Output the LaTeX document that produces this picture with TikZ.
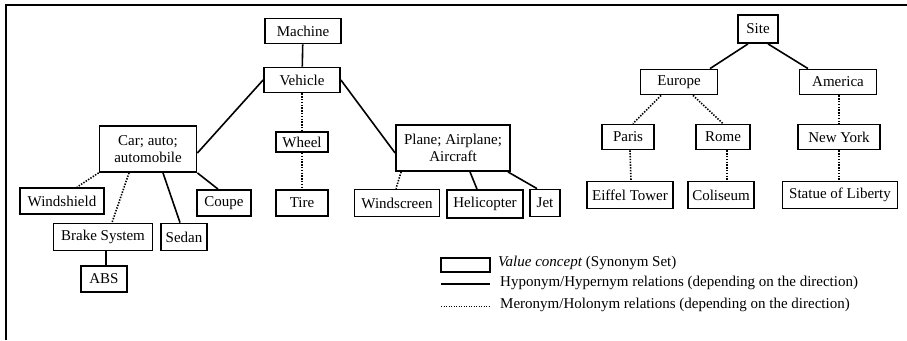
\documentclass[tikz,border=0pt]{standalone}
\usepackage{fontspec}
\setmainfont{Liberation Serif}
\usepackage{tikz}
\usetikzlibrary{positioning}

\begin{document}
\begin{tikzpicture}[
    x=1pt, y=-1pt,
    every node/.style={font=\fontsize{15}{17}\selectfont},
    concept/.style={
        draw,
        line width=1.8pt,
        inner sep=0pt,
        minimum height=26pt,
        align=center
    },
    hyper/.style={line width=1.6pt},
    mero/.style={line width=1.6pt, dash pattern=on 1.4pt off 1.4pt},
    legend text/.style={anchor=west, inner sep=0pt}
]
\useasboundingbox (0,0) rectangle (907,340);

% Frame (top and left edges only)
\draw[line width=1.8pt] (907,5) -- (6,5) -- (6,340);

% Vehicle tree
\node[concept, minimum width=76pt, minimum height=25pt] (machine) at (303,31) {Machine};
\node[concept, minimum width=76pt, minimum height=25pt] (vehicle) at (302,80) {Vehicle};
\node[concept, minimum width=97pt, minimum height=46pt] (car) at (148,149) {Car; auto;\\automobile};
\node[concept, minimum width=52pt, minimum height=20pt] (wheel) at (302,142) {Wheel};
\node[concept, minimum width=114pt, minimum height=46pt] (plane) at (453,148) {Plane; Airplane;\\Aircraft};
\node[concept, minimum width=84pt] (windshield) at (62,201) {Windshield};
\node[concept, minimum width=54pt] (coupe) at (224,203) {Coupe};
\node[concept, minimum width=52pt] (tire) at (302,203) {Tire};
\node[concept, minimum width=85pt, minimum height=27pt] (windscreen) at (397,203) {Windscreen};
\node[concept, minimum width=76pt, minimum height=28pt] (helicopter) at (485,204) {Helicopter};
\node[concept, minimum width=30pt, minimum height=27pt] (jet) at (545,203) {Jet};
\node[concept, minimum width=99pt, minimum height=27pt] (brake) at (103,237) {Brake System};
\node[concept, minimum width=46pt, minimum height=27pt] (sedan) at (184,237) {Sedan};
\node[concept, minimum width=46pt] (abs) at (104,279) {ABS};

% Site tree
\node[concept, minimum width=40pt, minimum height=28pt] (site) at (758,29) {Site};
\node[concept, minimum width=77pt, minimum height=25pt] (europe) at (679,82) {Europe};
\node[concept, minimum width=77pt, minimum height=25pt] (america) at (838,82) {America};
\node[concept, minimum width=52pt, minimum height=25pt] (paris) at (628,137) {Paris};
\node[concept, minimum width=54pt, minimum height=25pt] (rome) at (723,137) {Rome};
\node[concept, minimum width=82pt, minimum height=25pt] (newyork) at (839,137) {New York};
\node[concept, minimum width=86pt, minimum height=27pt] (eiffel) at (630,195) {Eiffel Tower};
\node[concept, minimum width=66pt, minimum height=27pt] (coliseum) at (721,195) {Coliseum};
\node[concept, minimum width=115pt, minimum height=27pt] (statue) at (840,195) {Statue of Liberty};

% Hyponym/Hypernym links
\draw[hyper] (machine) -- (vehicle);
\draw[hyper] (vehicle.west) -- ([yshift=-4pt]car.east);
\draw[hyper] (vehicle.east) -- ([yshift=-5pt]plane.west);
\draw[hyper] ([xshift=15pt]car.south) -- ([xshift=-4pt]sedan.north);
\draw[hyper] (car.south east) -- ([xshift=-6pt]coupe.north);
\draw[hyper] ([xshift=3pt]brake.south) -- ([xshift=2pt]abs.north);
\draw[hyper] ([xshift=17pt]plane.south) -- ([xshift=-8pt]helicopter.north);
\draw[hyper] ([xshift=-3pt]plane.south east) -- ([xshift=-8pt]jet.north);
\draw[hyper] ([xshift=-10pt]site.south) -- ([xshift=31pt]europe.north);
\draw[hyper] ([xshift=10pt]site.south) -- ([xshift=-30pt]america.north);

% Meronym/Holonym links
\draw[mero] (vehicle) -- (wheel);
\draw[mero] (wheel) -- (tire);
\draw[mero] (car.south west) -- ([xshift=15pt]windshield.north);
\draw[mero] ([xshift=-19pt]car.south) -- ([xshift=9pt]brake.north);
\draw[mero] ([xshift=6pt]plane.south west) -- ([xshift=-1pt]windscreen.north);
\draw[mero] ([xshift=-18pt]europe.south) -- ([xshift=5pt]paris.north);
\draw[mero] ([xshift=14pt]europe.south) -- (rome.north);
\draw[mero] ([xshift=1pt]america.south) -- (newyork.north);
\draw[mero] ([xshift=2pt]paris.south) -- ([xshift=1pt]eiffel.north);
\draw[mero] ([xshift=4pt]rome.south) -- ([xshift=6pt]coliseum.north);
\draw[mero] (newyork.south) -- ([xshift=-1pt]statue.north);

% Legend
\node[concept, minimum width=49pt, minimum height=14pt] (keybox) at (465.5,265) {};
\node[legend text] (keyconcept) at (498,263) {\textit{Value concept} (Synonym Set)};
\coordinate (hypa) at (441,284);
\coordinate (hypb) at (490,284);
\draw[hyper] (hypa) -- (hypb);
\node[legend text] (keyhyper) at (500,283) {Hyponym/Hypernym relations (depending on the direction)};
\coordinate (meroa) at (441,306);
\coordinate (merob) at (490,306);
\draw[line width=1pt, dash pattern=on 1pt off 1.5pt] (meroa) -- (merob);
\node[legend text] (keymero) at (500,305) {Meronym/Holonym relations (depending on the direction)};

\end{tikzpicture}
\end{document}
